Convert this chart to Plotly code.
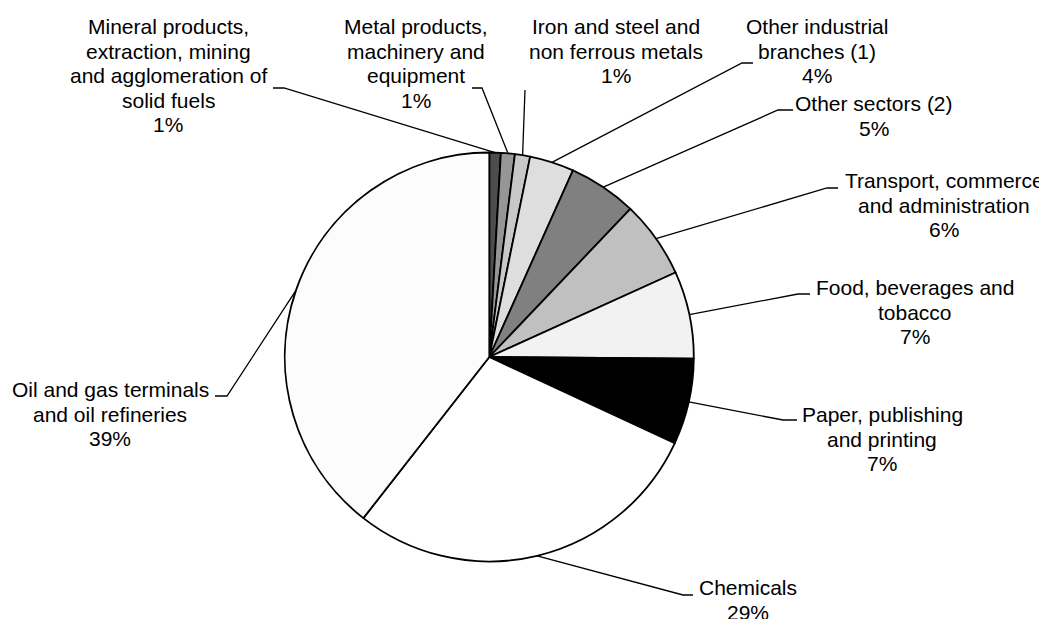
import math
import plotly.graph_objects as go

# ---------------- data ----------------
categories = [
    "Mineral products, extraction, mining and agglomeration of solid fuels",
    "Metal products, machinery and equipment",
    "Iron and steel and non ferrous metals",
    "Other industrial branches (1)",
    "Other sectors (2)",
    "Transport, commerce and administration",
    "Food, beverages and tobacco",
    "Paper, publishing and printing",
    "Chemicals",
    "Oil and gas terminals and oil refineries",
]
values = [0.9, 1.1, 1.2, 3.5, 5.4, 6.1, 6.9, 6.8, 28.6, 39.4]
pct_labels = ["1%", "1%", "1%", "4%", "5%", "6%", "7%", "7%", "29%", "39%"]
label_lines = [
    ["Mineral products,", "extraction, mining", "and agglomeration of", "solid fuels"],
    ["Metal products,", "machinery and", "equipment"],
    ["Iron and steel and", "non ferrous metals"],
    ["Other industrial", "branches (1)"],
    ["Other sectors (2)"],
    ["Transport, commerce", "and administration"],
    ["Food, beverages and", "tobacco"],
    ["Paper, publishing", "and printing"],
    ["Chemicals"],
    ["Oil and gas terminals", "and oil refineries"],
]
colors = ["#4d4d4d", "#969696", "#c8c8c8", "#dedede", "#808080",
          "#c0c0c0", "#f2f2f2", "#000000", "#ffffff", "#fcfcfc"]

# ---------------- layout (pixels in the screenshot) ----------------
W, H = 1047, 619
OFF = 8  # page body margin
CX, CY, R = 489.3, 357.0, 204.5
FONT = 21
LINE_GAP = 24.5

# text centre x, first baseline y, leader path points (from label side toward pie)
label_pos = [
    (168, 34, [(273, 88), (284, 88)]),
    (416, 34, [(472, 88), (482, 88)]),
    (616, 34, [(525, 90)]),
    (817, 34, [(753, 63), (742, 63)]),
    (874, 111, [(793, 110), (778, 110)]),
    (944, 188, [(838, 188), (827, 188)]),
    (915, 295, [(810, 294), (798, 294)]),
    (882, 422, [(797, 420), (783, 420)]),
    (748, 595, [(693, 595), (683, 595)]),
    (110, 397, [(215, 396), (227, 396)]),
]


def px(x):
    return (x - OFF) / W


def py(y):
    return 1 - (y - OFF) / H


fig = go.Figure()
fig.add_trace(go.Pie(
    labels=categories,
    values=values,
    sort=False,
    direction="clockwise",
    rotation=0,
    textinfo="none",
    hoverinfo="label+percent",
    marker=dict(colors=colors, line=dict(color="#000000", width=1.8)),
    domain=dict(x=[px(CX - R), px(CX + R)], y=[py(CY + R), py(CY - R)]),
    showlegend=False,
))

total = sum(values)
shapes = []
annotations = []
cum = 0.0
for i, v in enumerate(values):
    mid = (cum + v / 2) / total * 2 * math.pi
    cum += v
    ex = CX + R * math.sin(mid)
    ey = CY - R * math.cos(mid)
    tx, base, pts = label_pos[i]
    path_pts = pts + [(ex, ey)]
    d = "M " + " L ".join(f"{px(a):.5f},{py(b):.5f}" for a, b in path_pts)
    shapes.append(dict(type="path", path=d, xref="paper", yref="paper",
                       line=dict(color="#000000", width=1.3)))
    lines = label_lines[i] + [pct_labels[i]]
    for k, t in enumerate(lines):
        yb = base + k * LINE_GAP
        annotations.append(dict(
            text=t, x=px(tx), y=py(yb - 7.3), xref="paper", yref="paper",
            xanchor="center", yanchor="middle", showarrow=False,
            font=dict(family="Liberation Sans, Arial, sans-serif", size=FONT,
                      color="#000000"),
        ))

fig.update_layout(
    width=W, height=H,
    margin=dict(l=0, r=0, t=0, b=0),
    paper_bgcolor="#ffffff",
    plot_bgcolor="#ffffff",
    shapes=shapes,
    annotations=annotations,
)

fig.write_html("out.html")
